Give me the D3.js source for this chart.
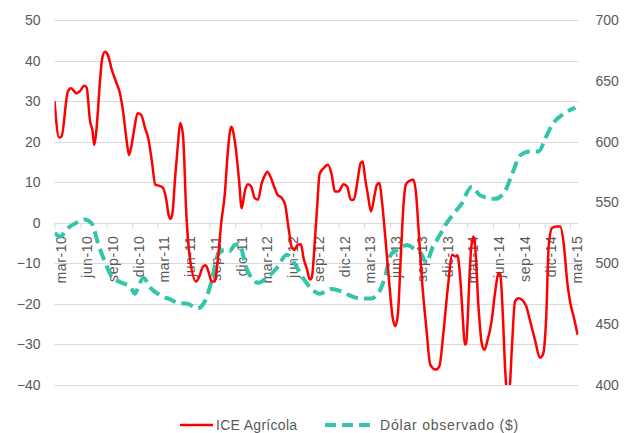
<!DOCTYPE html>
<html>
<head>
<meta charset="utf-8">
<script src="https://cdn.jsdelivr.net/npm/d3@7"></script>
<style>
  body { margin: 0; background: #fff; }
  text { font-family: "Liberation Sans", Arial, sans-serif; fill: #595959; }
</style>
</head>
<body>
<div id="chart"></div>
<script>
// ICE Agrícola (eje izquierdo)
const iceAgricola = [
  ["2010-03-01", 30], ["2010-03-17", 21], ["2010-03-26", 21.3], ["2010-04-17", 32.3], ["2010-04-28", 33.2],
  ["2010-05-18", 31.9], ["2010-05-30", 32.5], ["2010-06-15", 33.8], ["2010-06-23", 33.3], ["2010-07-05", 25],
  ["2010-07-13", 22.9], ["2010-07-20", 19.2], ["2010-07-28", 23.3], ["2010-08-09", 34.8], ["2010-08-17", 40.6],
  ["2010-08-27", 42.2], ["2010-09-06", 41.4], ["2010-09-20", 37.7], ["2010-10-07", 34.4], ["2010-10-19", 31.9],
  ["2010-10-30", 27.4], ["2010-11-12", 20], ["2010-11-20", 16.7], ["2010-11-29", 19.2], ["2010-12-09", 23.3],
  ["2010-12-20", 27], ["2011-01-02", 26.6], ["2011-01-16", 23.3], ["2011-01-27", 20.9], ["2011-02-09", 15.1],
  ["2011-02-21", 9.4], ["2011-03-08", 9.1], ["2011-03-19", 8.7], ["2011-04-01", 5.7], ["2011-04-09", 2],
  ["2011-04-16", 1], ["2011-04-22", 2], ["2011-05-03", 11.8], ["2011-05-12", 19.2], ["2011-05-20", 24.6],
  ["2011-05-30", 21.7], ["2011-06-11", 2], ["2011-06-22", -7.9], ["2011-07-16", -14.5], ["2011-07-25", -13.6],
  ["2011-08-09", -10.8], ["2011-08-18", -10.5], ["2011-08-30", -12.4], ["2011-09-08", -14.5], ["2011-09-19", -14.5],
  ["2011-10-01", -8.7], ["2011-10-13", 0.3], ["2011-10-25", 6.9], ["2011-11-05", 17.6], ["2011-11-17", 23.7],
  ["2011-11-22", 23], ["2011-12-03", 18.4], ["2011-12-15", 10.2], ["2011-12-24", 3.6], ["2012-01-04", 7.7],
  ["2012-01-15", 9.5], ["2012-01-27", 8.9], ["2012-02-08", 6.1], ["2012-02-20", 5.7], ["2012-03-04", 9.8],
  ["2012-03-16", 11.8], ["2012-03-24", 12.6], ["2012-04-06", 11], ["2012-04-17", 8.9], ["2012-04-29", 6.9],
  ["2012-05-14", 6.1], ["2012-05-26", 4.4], ["2012-06-07", -1.3], ["2012-06-19", -6.2], ["2012-06-28", -6.7],
  ["2012-07-09", -5.4], ["2012-07-21", -5.3], ["2012-07-30", -8.7], ["2012-08-12", -11.6], ["2012-08-21", -14],
  ["2012-08-28", -13.6], ["2012-09-08", -4.6], ["2012-09-16", 3.6], ["2012-09-25", 12], ["2012-10-10", 13.5],
  ["2012-10-25", 14.3], ["2012-11-07", 11.8], ["2012-11-18", 7.7], ["2012-12-01", 7.7], ["2012-12-19", 9.5],
  ["2013-01-01", 8.9], ["2013-01-13", 5.7], ["2013-01-24", 5.7], ["2013-02-06", 10.2], ["2013-02-17", 14.7],
  ["2013-02-25", 15.1], ["2013-03-05", 11], ["2013-03-15", 6.9], ["2013-03-26", 2.8], ["2013-04-08", 6.9],
  ["2013-04-16", 9.4], ["2013-04-25", 9.8], ["2013-05-04", 5.2], ["2013-05-15", -3], ["2013-05-27", -12.8],
  ["2013-06-11", -23.5], ["2013-06-20", -25.5], ["2013-06-29", -22.7], ["2013-07-11", -6.2], ["2013-07-20", 5.2],
  ["2013-07-27", 9.4], ["2013-08-08", 10.3], ["2013-08-23", 10.6], ["2013-09-02", 6.9], ["2013-09-11", -2.1],
  ["2013-09-23", -14.5], ["2013-10-08", -25.9], ["2013-10-22", -35], ["2013-11-10", -36.2], ["2013-11-23", -35.4],
  ["2013-12-08", -26.8], ["2013-12-23", -16.1], ["2014-01-08", -7.9], ["2014-01-19", -8.3], ["2014-01-26", -8],
  ["2014-02-06", -14.5], ["2014-02-15", -24.3], ["2014-02-21", -30], ["2014-02-26", -29.8], ["2014-03-04", -23.1],
  ["2014-03-09", -14.5], ["2014-03-16", -6.2], ["2014-03-24", -3.4], ["2014-03-30", -6], ["2014-04-11", -21],
  ["2014-04-23", -30], ["2014-05-02", -31.3], ["2014-05-12", -29.2], ["2014-05-27", -24.3], ["2014-06-09", -16.9],
  ["2014-06-21", -12.4], ["2014-06-27", -12.8], ["2014-07-06", -22.7], ["2014-07-14", -35.8], ["2014-07-20", -41],
  ["2014-07-29", -41], ["2014-08-07", -30.9], ["2014-08-18", -19.4], ["2014-08-30", -18.6], ["2014-09-12", -19],
  ["2014-09-27", -20.6], ["2014-10-11", -24.3], ["2014-10-29", -29.2], ["2014-11-14", -33.3], ["2014-11-25", -32.5],
  ["2014-12-07", -22.7], ["2014-12-15", -6.2], ["2014-12-27", -1.3], ["2015-01-12", -0.9], ["2015-01-25", -0.9],
  ["2015-02-07", -5.4], ["2015-02-19", -14.5], ["2015-03-01", -19.4], ["2015-03-15", -23.5], ["2015-03-28", -27.6]
];

// Dólar observado ($) (eje derecho)
const dolarObservado = [
  ["2010-03-02", 525], ["2010-03-20", 522], ["2010-04-18", 529], ["2010-05-24", 534], ["2010-06-15", 536],
  ["2010-07-10", 533], ["2010-08-04", 515], ["2010-08-27", 501], ["2010-09-20", 489], ["2010-10-25", 484],
  ["2010-11-24", 481], ["2010-12-11", 475], ["2010-12-23", 481], ["2011-01-10", 488], ["2011-02-03", 480],
  ["2011-03-09", 474], ["2011-04-19", 470], ["2011-05-18", 467], ["2011-06-11", 467], ["2011-07-21", 463],
  ["2011-08-14", 468], ["2011-09-08", 485], ["2011-10-01", 507], ["2011-10-24", 511], ["2011-11-11", 510],
  ["2011-11-29", 515], ["2011-12-15", 516], ["2012-01-10", 496], ["2012-02-21", 484], ["2012-03-21", 488],
  ["2012-04-26", 496], ["2012-06-01", 507], ["2012-06-25", 501], ["2012-07-28", 488], ["2012-09-01", 478],
  ["2012-09-25", 475], ["2012-11-07", 479], ["2012-12-10", 477], ["2013-01-16", 473], ["2013-02-19", 471],
  ["2013-03-25", 471], ["2013-04-25", 477], ["2013-05-16", 490], ["2013-06-04", 507], ["2013-07-04", 512],
  ["2013-08-01", 515], ["2013-08-25", 512], ["2013-09-19", 508], ["2013-10-07", 501], ["2013-11-01", 514],
  ["2013-11-22", 522], ["2013-12-16", 532], ["2014-01-10", 540], ["2014-02-07", 548], ["2014-03-18", 563],
  ["2014-04-16", 556], ["2014-06-08", 553], ["2014-07-13", 559], ["2014-08-07", 573], ["2014-09-07", 589],
  ["2014-10-10", 592], ["2014-11-10", 592], ["2014-12-04", 603], ["2014-12-28", 614], ["2015-02-07", 623],
  ["2015-03-20", 628]
];

const xTickLabels = [
  "mar-10", "jun-10", "sep-10", "dic-10", "mar-11", "jun-11", "sep-11", "dic-11", "mar-12", "jun-12", "sep-12",
  "dic-12", "mar-13", "jun-13", "sep-13", "dic-13", "mar-14", "jun-14", "sep-14", "dic-14", "mar-15"
];
const leftTicks = [-40, -30, -20, -10, 0, 10, 20, 30, 40, 50];
const rightTicks = [400, 450, 500, 550, 600, 650, 700];

const W = 624, H = 433;
const plot = { left: 54.5, right: 578.5, top: 20, bottom: 385 };
const parse = d3.timeParse("%Y-%m-%d");
const meses = { ene: 0, feb: 1, mar: 2, abr: 3, may: 4, jun: 5, jul: 6, ago: 7, sep: 8, oct: 9, nov: 10, dic: 11 };
const tickDates = xTickLabels.map(s => new Date(2000 + +s.slice(4), meses[s.slice(0, 3)], 1));

const x = d3.scaleTime()
  .domain([new Date(2010, 2, 1), new Date(2015, 2, 31)])
  .range([plot.left, plot.right]);
const yL = d3.scaleLinear().domain([-40, 50]).range([plot.bottom, plot.top]);
const yR = d3.scaleLinear().domain([400, 700]).range([plot.bottom, plot.top]);

const svg = d3.select("#chart").append("svg")
  .attr("width", W).attr("height", H);

svg.append("defs").append("clipPath").attr("id", "clip")
  .append("rect")
  .attr("x", plot.left).attr("y", plot.top)
  .attr("width", plot.right - plot.left).attr("height", plot.bottom - plot.top);

// Gridlines
svg.append("g")
  .selectAll("line")
  .data(leftTicks)
  .join("line")
  .attr("x1", plot.left).attr("x2", plot.right)
  .attr("y1", d => Math.round(yL(d)) + 0.5).attr("y2", d => Math.round(yL(d)) + 0.5)
  .attr("stroke", "#d9d9d9").attr("stroke-width", 1);

// Left axis
const gL = svg.append("g")
  .attr("transform", `translate(${plot.left},0)`)
  .call(d3.axisLeft(yL).tickValues(leftTicks).tickSize(0).tickPadding(14));
gL.select(".domain").remove();
gL.selectAll("text").style("font-size", "14px").style("fill", "#595959").style("font-family", "Liberation Sans, Arial, sans-serif");

// Right axis
const gR = svg.append("g")
  .attr("transform", `translate(${plot.right},0)`)
  .call(d3.axisRight(yR).tickValues(rightTicks).tickSize(0).tickPadding(17));
gR.select(".domain").remove();
gR.selectAll("text").style("font-size", "14px").style("fill", "#595959").style("font-family", "Liberation Sans, Arial, sans-serif");

// Category axis at zero
const y0 = Math.round(yL(0)) + 0.5;
const gX = svg.append("g")
  .attr("transform", `translate(0,${y0})`)
  .call(d3.axisBottom(x).tickValues(tickDates).tickSize(5).tickFormat((d, i) => xTickLabels[i]));
gX.select(".domain").remove();
gX.selectAll("line").attr("stroke", "#d9d9d9");
gX.selectAll("text")
  .attr("transform", "rotate(-90)")
  .attr("x", -12).attr("y", 11).attr("dy", 0)
  .style("text-anchor", "end")
  .style("font-size", "14px").style("letter-spacing", "0.6px")
  .style("fill", "#595959").style("font-family", "Liberation Sans, Arial, sans-serif");

// Lines
const lines = svg.append("g").attr("clip-path", "url(#clip)");

lines.append("path")
  .datum(dolarObservado)
  .attr("fill", "none")
  .attr("stroke", "#33c5a9")
  .attr("stroke-width", 4)
  .attr("stroke-dasharray", "12,6")
  .attr("d", d3.line().curve(d3.curveMonotoneX).x(d => x(parse(d[0]))).y(d => yR(d[1])));

lines.append("path")
  .datum(iceAgricola)
  .attr("fill", "none")
  .attr("stroke", "#ff0000")
  .attr("stroke-width", 2.5)
  .attr("stroke-linejoin", "round")
  .attr("d", d3.line().curve(d3.curveMonotoneX).x(d => x(parse(d[0]))).y(d => yL(d[1])));

// Legend
const legY = 425;
const leg = svg.append("g");
leg.append("line")
  .attr("x1", 180).attr("x2", 213).attr("y1", legY).attr("y2", legY)
  .attr("stroke", "#ff0000").attr("stroke-width", 2.5);
leg.append("text")
  .attr("x", 216).attr("y", legY).attr("dy", "0.35em")
  .style("font-size", "14px").style("letter-spacing", "0.3px")
  .text("ICE Agrícola");
leg.append("line")
  .attr("x1", 325).attr("x2", 371).attr("y1", legY).attr("y2", legY)
  .attr("stroke", "#33c5a9").attr("stroke-width", 4).attr("stroke-dasharray", "11,6");
leg.append("text")
  .attr("x", 380).attr("y", legY).attr("dy", "0.35em")
  .style("font-size", "14px").style("letter-spacing", "0.8px")
  .text("Dólar observado ($)");
</script>
</body>
</html>
